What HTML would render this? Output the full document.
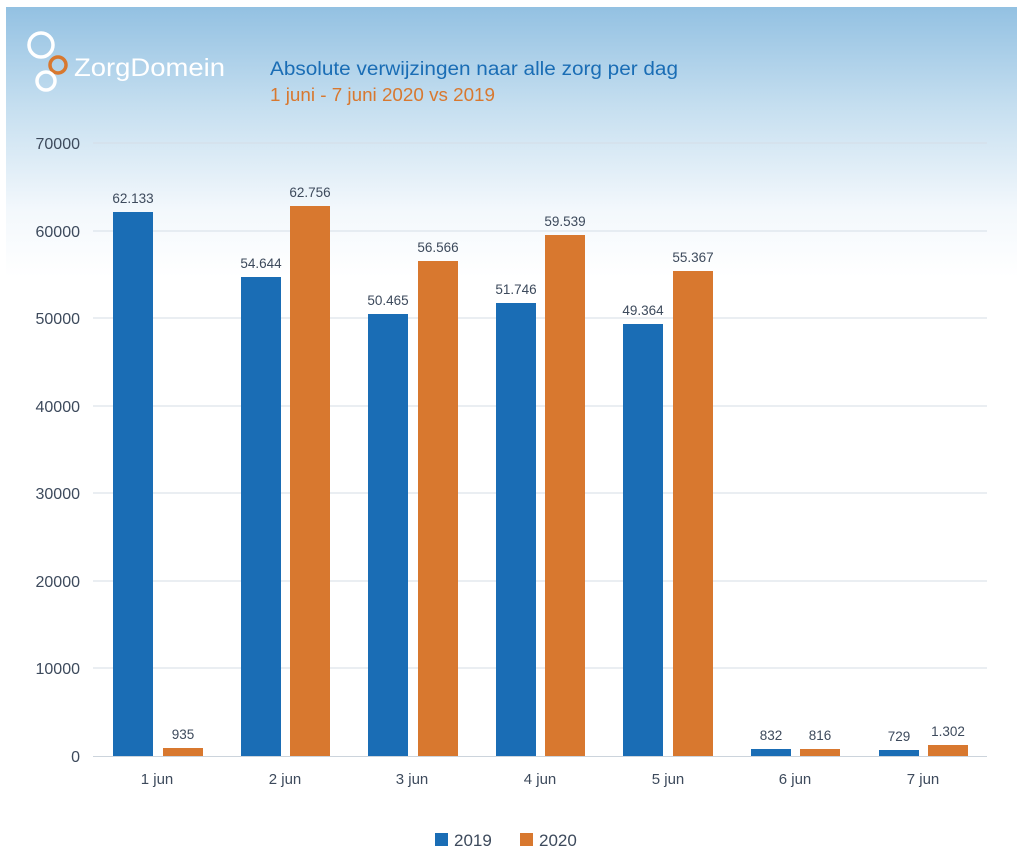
<!DOCTYPE html>
<html><head><meta charset="utf-8"><style>
body{margin:0;background:#fff;}
svg{display:block;font-family:"Liberation Sans",sans-serif;}
</style></head><body>
<svg width="1024" height="852" viewBox="0 0 1024 852">
<defs><linearGradient id="g" x1="0" y1="0" x2="0" y2="1">
<stop offset="0" stop-color="#93c1e2"/><stop offset="0.12" stop-color="#c6dff0"/><stop offset="0.24" stop-color="#f3f8fc"/><stop offset="0.32" stop-color="#fff"/></linearGradient></defs>
<rect x="6" y="7" width="1011" height="845" fill="url(#g)"/>
<circle cx="41" cy="45" r="12" fill="none" stroke="#fff" stroke-width="3.5"/>
<circle cx="58" cy="65" r="8" fill="none" stroke="#d8782f" stroke-width="3.5"/>
<circle cx="46" cy="81" r="9" fill="none" stroke="#fff" stroke-width="3.5"/>
<text x="74" y="76" font-size="25" fill="#fff" textLength="151" lengthAdjust="spacingAndGlyphs">ZorgDomein</text>
<text x="270" y="75" font-size="19" fill="#1a6db5" textLength="408" lengthAdjust="spacingAndGlyphs">Absolute verwijzingen naar alle zorg per dag</text>
<text x="270" y="101" font-size="18" fill="#d8782f" textLength="225" lengthAdjust="spacingAndGlyphs">1 juni - 7 juni 2020 vs 2019</text>
<g stroke="#d5dde6" stroke-width="1">
<line x1="93" y1="143" x2="987" y2="143"/><line x1="93" y1="231" x2="987" y2="231"/>
<line x1="93" y1="318" x2="987" y2="318"/><line x1="93" y1="406" x2="987" y2="406"/>
<line x1="93" y1="493" x2="987" y2="493"/><line x1="93" y1="581" x2="987" y2="581"/>
<line x1="93" y1="668" x2="987" y2="668"/>
</g>
<line x1="93" y1="756.5" x2="987" y2="756.5" stroke="#ccd4dc"/>
<g font-size="16" fill="#3d4a5c" text-anchor="end">
<text x="80" y="149">70000</text><text x="80" y="237">60000</text><text x="80" y="324">50000</text>
<text x="80" y="412">40000</text><text x="80" y="499">30000</text><text x="80" y="587">20000</text>
<text x="80" y="674">10000</text><text x="80" y="762">0</text>
</g>
<g fill="#1a6db5">
<rect x="113" y="212" width="40" height="544"/>
<rect x="241" y="277" width="40" height="479"/>
<rect x="368" y="314" width="40" height="442"/>
<rect x="496" y="303" width="40" height="453"/>
<rect x="623" y="324" width="40" height="432"/>
<rect x="751" y="749" width="40" height="7"/>
<rect x="879" y="750" width="40" height="6"/>
</g>
<g fill="#d8782f">
<rect x="163" y="748" width="40" height="8"/>
<rect x="290" y="206" width="40" height="550"/>
<rect x="418" y="261" width="40" height="495"/>
<rect x="545" y="235" width="40" height="521"/>
<rect x="673" y="271" width="40" height="485"/>
<rect x="800" y="749" width="40" height="7"/>
<rect x="928" y="745" width="40" height="11"/>
</g>
<g font-size="13.5" fill="#3d4a5c" text-anchor="middle">
<text x="133" y="203">62.133</text><text x="183" y="739">935</text>
<text x="261" y="268">54.644</text><text x="310" y="197">62.756</text>
<text x="388" y="305">50.465</text><text x="438" y="252">56.566</text>
<text x="516" y="294">51.746</text><text x="565" y="226">59.539</text>
<text x="643" y="315">49.364</text><text x="693" y="262">55.367</text>
<text x="771" y="740">832</text><text x="820" y="740">816</text>
<text x="899" y="741">729</text><text x="948" y="736">1.302</text>
</g>
<g font-size="15" fill="#3d4a5c" text-anchor="middle">
<text x="157" y="784">1 jun</text><text x="285" y="784">2 jun</text><text x="412" y="784">3 jun</text>
<text x="540" y="784">4 jun</text><text x="668" y="784">5 jun</text><text x="795" y="784">6 jun</text>
<text x="923" y="784">7 jun</text>
</g>
<rect x="435" y="833" width="13" height="13" fill="#1a6db5"/>
<text x="454" y="846" font-size="17" fill="#3d4a5c">2019</text>
<rect x="520" y="833" width="13" height="13" fill="#d8782f"/>
<text x="539" y="846" font-size="17" fill="#3d4a5c">2020</text>
</svg>
</body></html>
